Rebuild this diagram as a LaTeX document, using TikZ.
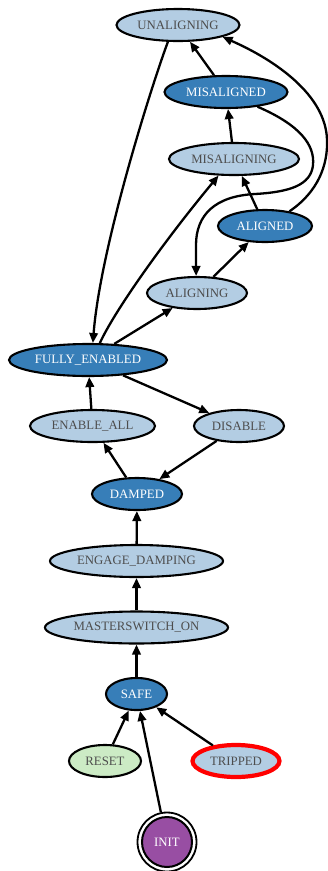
\documentclass[tikz,border=0pt]{standalone}
\usepackage{fontspec}
\setmainfont{Liberation Serif}
\usetikzlibrary{shapes.geometric,arrows.meta}
\definecolor{paleblue}{HTML}{B3CDE3}
\definecolor{deepblue}{HTML}{377EB8}
\definecolor{palegreen}{HTML}{CCEBC5}
\definecolor{initpurple}{HTML}{984EA3}
\definecolor{labelgray}{HTML}{4D4D4D}
\newcommand\nlabel[1]{\makebox[0pt]{#1}}
\begin{document}
\begin{tikzpicture}[x=1pt,y=-1pt,
  state/.style={ellipse, draw=black, line width=2.1pt, inner sep=0pt,
    minimum height=32pt, font=\fontsize{12.8}{14}\selectfont},
  light/.style={state, fill=paleblue, text=labelgray},
  dark/.style={state, fill=deepblue, text=white},
  edge/.style={line width=2.3pt, -{Triangle[length=10pt,width=8.5pt]}}]
\useasboundingbox (0,0) rectangle (328,871);

% states
\node[light, minimum width=123pt] (un) at (178,25) {\nlabel{UNALIGNING}};
\node[dark,  minimum width=123pt] (ms) at (226,92) {\nlabel{MISALIGNED}};
\node[light, minimum width=130pt] (mi) at (234,159) {\nlabel{MISALIGNING}};
\node[dark,  minimum width=94pt]  (ad) at (265,226) {\nlabel{ALIGNED}};
\node[light, minimum width=100pt] (ag) at (197,293) {\nlabel{ALIGNING}};
\node[dark,  minimum width=158pt] (fe) at (88,360) {\nlabel{FULLY\_ENABLED}};
\node[light, minimum width=125pt] (ea) at (92.5,426) {\nlabel{ENABLE\_ALL}};
\node[light, minimum width=90pt]  (ds) at (239,426) {\nlabel{DISABLE}};
\node[dark,  minimum width=90pt]  (dp) at (137,494) {\nlabel{DAMPED}};
\node[light, minimum width=173pt] (ed) at (136.5,561) {\nlabel{ENGAGE\_DAMPING}};
\node[light, minimum width=183pt] (mo) at (136.5,627.5) {\nlabel{MASTERSWITCH\_ON}};
\node[dark,  minimum width=61pt]  (sf) at (136.5,694) {\nlabel{SAFE}};
\node[state, fill=palegreen, text=labelgray, minimum width=72pt] (rs) at (105,761) {\nlabel{RESET}};
\node[state, fill=paleblue, text=labelgray, draw=red, line width=4.2pt,
      minimum width=87pt] (tp) at (236,761) {\nlabel{TRIPPED}};
\node[circle, draw, line width=1.8pt, minimum size=59pt, inner sep=0pt] (init) at (167,842) {};
\node[circle, draw, line width=2pt, fill=initpurple, text=white, minimum size=50pt,
      inner sep=0pt, font=\fontsize{12.8}{14}\selectfont] (initcore) at (init) {INIT};

% transitions
\draw[edge] (ms) -- (un);
\draw[edge] (mi) -- (ms);
\draw[edge] (ad) -- (mi);
\draw[edge] (ag) -- (ad);
\draw[edge] (fe) -- (ag);
\draw[edge] (fe) -- (ds);
\draw[edge] (ea) -- (fe);
\draw[edge] (dp) -- (ea);
\draw[edge] (ds) -- (dp);
\draw[edge] (ed) -- (dp);
\draw[edge] (mo) -- (ed);
\draw[edge] (sf) -- (mo);
\draw[edge] (rs) -- (sf);
\draw[edge] (init) -- (sf);
\draw[edge] (tp) -- (sf);

\draw[edge] (un.239) .. controls (150,90) and (100,250) .. (fe.74);
\draw[edge] (fe.55) .. controls (115,310) and (165,240) .. (mi.227);
\draw[edge] (ms.335) .. controls (300,125) and (315,145) .. (313,165)
  .. controls (311,185) and (290,192) .. (255,194)
  .. controls (215,196) and (196,215) .. (196,245) -- (ag.93);
\draw[edge] (ad.31) .. controls (318,192) and (328,165) .. (327,140)
  .. controls (326,95) and (275,60) .. (un.345);
\end{tikzpicture}
\end{document}
